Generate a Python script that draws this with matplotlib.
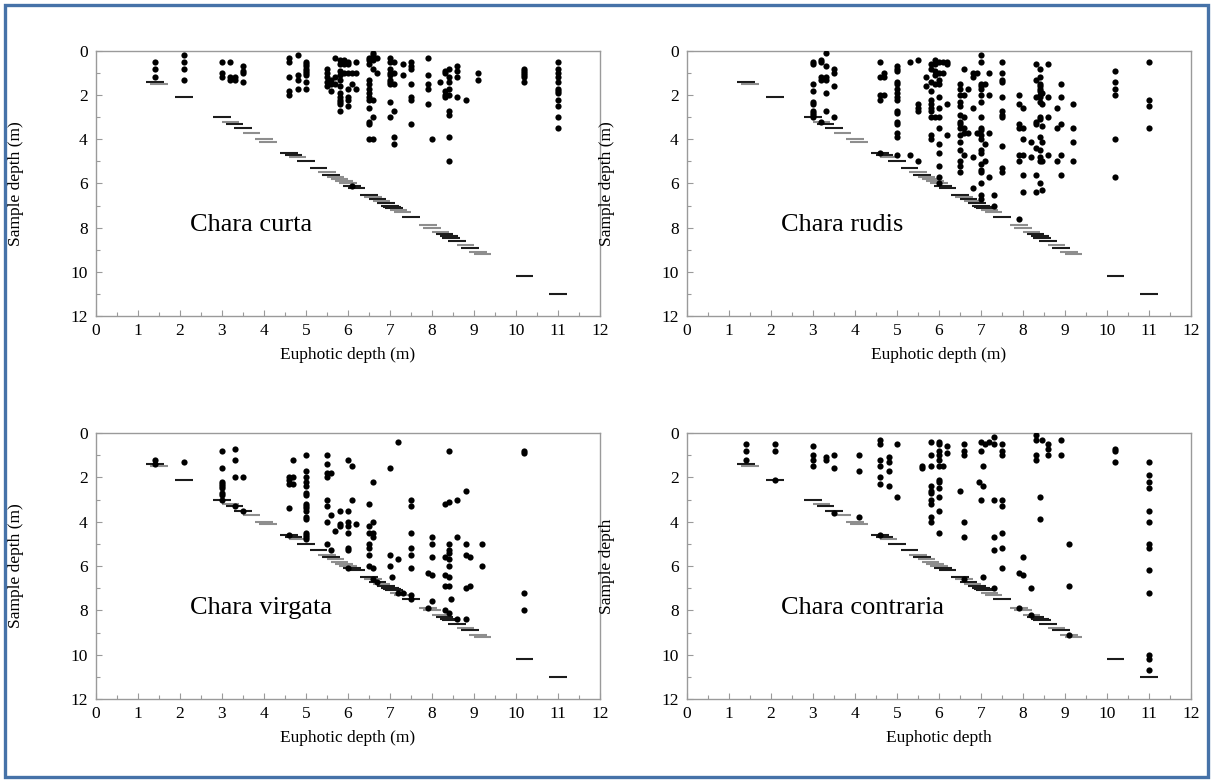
import matplotlib
matplotlib.use("Agg")
import matplotlib.pyplot as plt
from matplotlib.patches import Rectangle
from matplotlib.ticker import MultipleLocator

# ---------------- data ----------------
# euphotic depth markers (drawn as short dashes at y = euphotic depth)
ed_values = [1.4, 1.5, 2.1, 3.0, 3.2, 3.3, 3.5, 3.7, 4.0, 4.1, 4.6, 4.7, 4.8, 5.0,
             5.3, 5.5, 5.6, 5.7, 5.8, 5.9, 6.0, 6.1, 6.2, 6.5, 6.6, 6.7, 6.8, 6.9,
             7.0, 7.05, 7.1, 7.2, 7.3, 7.5, 7.9, 8.0, 8.2, 8.3, 8.4, 8.45, 8.6, 8.8,
             8.9, 9.1, 9.2, 10.2, 11.0]
ed_dark = [1, 0, 1, 1, 0, 1, 1, 0, 0, 0, 1, 1, 0, 1,
           1, 0, 1, 0, 0, 0, 0, 1, 1, 1, 0, 1, 0, 1,
           1, 1, 1, 0, 0, 1, 0, 0, 0, 1, 1, 1, 1, 0,
           1, 0, 0, 1, 1]

# Chara curta
curta_x = [1.4, 2.1, 3.0, 3.2, 3.3, 3.5, 4.6, 4.8, 5.0, 5.5, 5.6, 5.7, 5.8, 5.9,
           6.0, 6.1, 6.2, 6.5, 6.6, 6.7, 7.0, 7.1, 7.3, 7.5, 7.9, 8.0, 8.2, 8.3,
           8.4, 8.6, 8.8, 9.1, 10.2, 11.0]
curta_y = [[0.5, 0.8, 1.2], [0.2, 0.5, 0.8, 1.3], [0.5, 1.0, 1.2], [0.5, 1.2, 1.3],
           [1.2, 1.3], [0.7, 0.9, 1.0, 1.4], [0.3, 0.5, 1.2, 1.8, 2.0],
           [0.2, 1.1, 1.3, 1.7], [0.5, 0.6, 0.7, 0.8, 0.9, 1.0, 1.1, 1.4, 1.7],
           [0.8, 1.0, 1.2, 1.4, 1.6], [1.3, 1.5, 1.8], [0.3, 1.2, 1.5],
           [0.4, 0.6, 0.9, 1.1, 1.3, 1.6, 1.9, 2.1, 2.2, 2.3, 2.4, 2.7],
           [0.4, 0.6, 1.0], [0.5, 0.6, 1.0, 1.7, 2.1, 2.2, 2.5], [1.0, 1.5, 6.1],
           [0.5, 1.0, 1.7],
           [0.3, 0.4, 0.6, 1.3, 1.5, 1.7, 1.9, 2.1, 2.2, 2.6, 3.2, 3.3, 4.0],
           [0.1, 0.2, 0.4, 0.8, 2.2, 3.0, 4.0], [0.3, 1.0],
           [0.3, 0.5, 0.8, 1.0, 1.1, 1.3, 1.4, 1.5, 2.3, 3.0],
           [0.5, 1.0, 1.5, 2.7, 3.9, 4.2], [0.6, 1.1],
           [0.5, 0.7, 0.8, 1.5, 2.1, 2.2, 3.3], [0.3, 1.1, 1.5, 1.7, 2.4], [4.0],
           [1.4], [0.9, 1.0, 1.8, 2.0, 2.1],
           [0.8, 1.2, 1.4, 1.7, 2.0, 2.7, 2.9, 3.9, 5.0], [0.7, 0.9, 1.2, 2.1],
           [2.2], [1.0, 1.3], [0.8, 0.9, 1.0, 1.1, 1.2, 1.4],
           [0.5, 0.8, 1.0, 1.2, 1.4, 1.7, 1.8, 1.9, 2.2, 2.5, 3.0, 3.5]]

# Chara rudis
rudis_x = [3.0, 3.2, 3.3, 3.5, 4.6, 4.7, 5.0, 5.3, 5.5, 5.7, 5.8, 5.9, 6.0, 6.1,
           6.2, 6.5, 6.6, 6.7, 6.8, 6.9, 7.0, 7.1, 7.2, 7.3, 7.5, 7.9, 8.0, 8.2,
           8.3, 8.4, 8.45, 8.6, 8.8, 8.9, 9.2, 10.2, 11.0]
rudis_y = [[0.5, 0.6, 1.5, 1.8, 2.3, 2.4, 2.7, 2.8, 2.9, 3.0],
           [0.4, 0.5, 1.2, 1.3, 3.2], [0.1, 0.7, 1.2, 1.3, 1.9, 2.7],
           [0.8, 1.0, 1.6, 3.0], [0.5, 1.2, 2.0, 2.2, 4.6], [1.0, 1.2, 2.0],
           [0.7, 0.8, 0.9, 1.4, 1.5, 1.7, 1.9, 2.1, 2.2, 2.7, 2.8, 3.2, 3.3, 3.7, 3.9, 4.7],
           [0.5, 4.7], [0.4, 2.4, 2.6, 2.7, 5.0], [1.2, 1.6],
           [0.6, 0.8, 1.4, 1.8, 2.2, 2.4, 2.6, 2.7, 3.0, 3.8, 4.0],
           [0.4, 0.6, 0.9, 1.1, 1.5, 3.0],
           [0.5, 1.0, 1.3, 1.5, 2.1, 2.6, 3.0, 3.5, 4.2, 4.6, 5.2, 5.7, 6.0],
           [0.5, 1.0], [0.5, 0.6, 2.4, 3.8],
           [1.5, 1.7, 2.0, 2.3, 2.5, 2.9, 3.2, 3.3, 3.5, 3.8, 4.1, 4.5, 5.0, 5.2, 5.5],
           [0.8, 2.0, 3.0, 3.5, 3.7, 4.7], [1.7, 3.7], [1.0, 1.2, 2.6, 4.8, 6.2],
           [1.0, 3.7],
           [0.2, 0.5, 1.5, 1.6, 1.7, 2.0, 2.3, 3.0, 3.5, 3.6, 3.8, 4.0, 4.5, 4.6,
            5.1, 5.4, 5.5, 6.0, 6.5, 6.7],
           [1.5, 4.2, 5.0], [1.0, 2.0, 3.7, 5.7], [6.5, 7.0],
           [0.5, 1.0, 1.3, 1.4, 2.1, 2.7, 2.9, 3.0, 4.3, 5.3, 5.5],
           [2.0, 2.4, 3.3, 3.5, 4.7, 5.0, 7.6], [2.6, 3.5, 4.0, 4.7, 5.6, 6.4],
           [4.1, 4.8], [0.6, 1.3, 2.1, 3.2, 3.3, 4.4, 5.6, 6.4],
           [0.8, 1.2, 1.5, 1.6, 1.7, 1.8, 2.0, 2.1, 2.3, 3.0, 3.1, 3.9, 4.5, 4.8, 5.0, 6.0],
           [1.9, 2.4, 3.4, 4.1, 5.0, 6.3], [0.6, 2.1, 3.0, 4.7], [2.6, 3.5, 5.0],
           [1.5, 2.1, 3.3, 4.7, 5.6], [2.4, 3.5, 4.1, 5.0],
           [0.9, 1.4, 1.7, 2.0, 4.0, 5.7], [0.5, 2.2, 2.5, 3.5]]

# Chara virgata
virgata_x = [1.4, 2.1, 3.0, 3.3, 3.5, 4.6, 4.7, 5.0, 5.5, 5.6, 5.7, 5.8, 6.0, 6.1,
             6.2, 6.5, 6.6, 6.7, 7.0, 7.05, 7.2, 7.3, 7.5, 7.9, 8.0, 8.3, 8.4,
             8.45, 8.6, 8.8, 8.9, 9.2, 10.2]
virgata_y = [[1.2, 1.4], [1.3], [0.8, 1.6, 2.2, 2.3, 2.4, 2.5, 2.7, 2.8, 3.0],
             [0.7, 1.2, 2.0, 3.3], [2.0, 3.5], [2.0, 2.1, 2.3, 3.4, 4.6],
             [1.2, 2.0, 2.3],
             [1.0, 1.7, 2.0, 2.2, 2.4, 2.7, 2.8, 3.2, 3.3, 3.4, 3.5, 3.8, 3.9,
              4.5, 4.6, 4.7, 4.8],
             [1.0, 1.4, 1.8, 2.0, 3.0, 3.3, 4.0, 5.0], [1.8, 3.7, 5.3], [4.4],
             [3.5, 4.1, 4.2], [1.2, 3.5, 4.0, 4.2, 4.5, 5.2, 5.3, 6.1], [1.5, 3.0],
             [4.1], [3.2, 4.2, 4.5, 5.0, 5.2, 5.5, 6.0],
             [2.2, 4.0, 4.5, 4.7, 6.1, 6.6], [6.7], [1.6, 5.5, 6.0], [6.5],
             [0.4, 5.7, 7.2], [7.2], [3.0, 3.3, 4.5, 5.2, 5.5, 6.1, 7.3, 7.5],
             [6.3, 7.9], [4.7, 5.0, 5.6, 6.4, 7.6], [3.2, 5.6, 6.4, 6.9, 8.0],
             [0.8, 3.1, 5.0, 5.3, 5.4, 5.7, 6.0, 6.5, 6.9, 8.1], [7.5],
             [3.0, 4.7, 8.4], [2.6, 5.0, 5.5, 7.0, 8.4], [5.6, 6.9], [5.0, 6.0],
             [0.8, 0.9, 7.2, 8.0]]

# Chara contraria
contraria_x = [1.4, 2.1, 3.0, 3.3, 3.5, 4.1, 4.6, 4.8, 5.0, 5.6, 5.8, 6.0, 6.1,
               6.2, 6.5, 6.6, 6.95, 7.0, 7.05, 7.1, 7.2, 7.3, 7.5, 7.9, 8.0, 8.2,
               8.3, 8.4, 8.45, 8.6, 8.9, 9.1, 10.2, 11.0]
contraria_y = [[0.5, 0.8, 1.2], [0.5, 0.8, 2.1], [0.6, 1.0, 1.2, 1.5], [1.1, 1.2],
               [1.0, 1.6, 3.6], [1.0, 1.7, 3.8], [0.3, 0.5, 1.2, 1.5, 2.0, 2.3, 4.6],
               [1.1, 1.3, 1.7, 2.4], [0.5, 2.9], [1.5, 1.6],
               [0.4, 1.0, 1.5, 2.4, 2.6, 2.7, 3.0, 3.2, 3.8, 4.0],
               [0.4, 0.5, 0.8, 1.0, 1.2, 1.5, 2.1, 2.2, 2.5, 2.9, 3.5, 4.5],
               [1.5], [0.6, 0.9], [2.6], [0.5, 0.8, 1.0, 4.0, 4.7, 6.6], [2.2],
               [0.4, 0.8, 3.0], [1.5, 2.4, 6.5], [0.5], [0.4],
               [0.2, 0.5, 3.0, 4.7, 5.3, 7.0],
               [0.5, 0.8, 1.0, 3.0, 3.3, 4.5, 5.2, 6.1], [6.3, 7.9], [5.6, 6.4],
               [7.0, 8.2], [0.1, 0.3, 1.0, 1.2], [2.9, 3.9], [0.3],
               [0.5, 0.7, 1.0], [0.3, 1.0], [5.0, 6.9, 9.1], [0.7, 0.8, 1.3],
               [1.3, 1.9, 2.2, 2.5, 3.5, 4.0, 5.0, 5.2, 6.2, 7.2, 10.0, 10.2, 10.7]]

species = ["Chara curta", "Chara rudis", "Chara virgata", "Chara contraria"]
x_labels = ["Euphotic depth (m)", "Euphotic depth (m)", "Euphotic depth (m)", "Euphotic depth"]
y_labels = ["Sample depth (m)", "Sample depth (m)", "Sample depth (m)", "Sample depth"]
panels_x = [curta_x, rudis_x, virgata_x, contraria_x]
panels_y = [curta_y, rudis_y, virgata_y, contraria_y]

# ---------------- figure ----------------
plt.rcParams['font.family'] = ['Liberation Serif', 'DejaVu Serif']
W, H = 1212, 781
fig = plt.figure(figsize=(W / 100, H / 100), dpi=100)
fig.patch.set_facecolor('white')

# axes boxes in pixels: (left, top, right, bottom)
boxes = [(96, 51, 600, 316), (687, 51, 1191, 316),
         (96, 433, 600, 699), (687, 433, 1191, 699)]

spine_col = '#9a9a9a'
dark_col = '#1c1c1c'
light_col = '#8e8e8e'

for i, (l, t, r, b) in enumerate(boxes):
    ax = fig.add_axes([l / W, 1 - b / H, (r - l) / W, (b - t) / H])
    # euphotic depth dashes
    for v, d in zip(ed_values, ed_dark):
        ax.hlines(v, v - 0.21, v + 0.21, colors=dark_col if d else light_col,
                  linewidth=1.5, zorder=2)
    xs, ys = [], []
    for xv, col in zip(panels_x[i], panels_y[i]):
        for yv in col:
            xs.append(xv)
            ys.append(yv)
    ax.scatter(xs, ys, s=20, color='black', linewidths=0, zorder=3)
    ax.set_xlim(0, 12)
    ax.set_ylim(12, 0)
    ax.xaxis.set_major_locator(MultipleLocator(1))
    ax.xaxis.set_minor_locator(MultipleLocator(0.5))
    ax.yaxis.set_major_locator(MultipleLocator(2))
    ax.yaxis.set_minor_locator(MultipleLocator(1))
    ax.tick_params(which='both', direction='in', color=spine_col, labelsize=12.5,
                   top=False, right=False)
    ax.tick_params(which='major', length=4, width=0.8)
    ax.tick_params(which='minor', length=3, width=0.8)
    ax.tick_params(axis='x', pad=5)
    ax.tick_params(axis='y', pad=6)
    for s in ax.spines.values():
        s.set_color(spine_col)
        s.set_linewidth(1.0)
    ax.set_xlabel(x_labels[i], fontsize=12.5, labelpad=6)
    ax.set_ylabel(y_labels[i], fontsize=12.5)
    ax.yaxis.set_label_coords(-0.143, 0.5)
    ax.text(2.25, 7.9, species[i], fontsize=19, ha='left', va='center', zorder=4)

# blue frame around the whole figure
fig.patches.append(Rectangle((5 / W, 4 / H), 1203 / W, 772 / H, transform=fig.transFigure,
                             fill=False, edgecolor='#4672a8', linewidth=2.4, zorder=10))

fig.savefig('out.png', dpi=100, facecolor='white')
